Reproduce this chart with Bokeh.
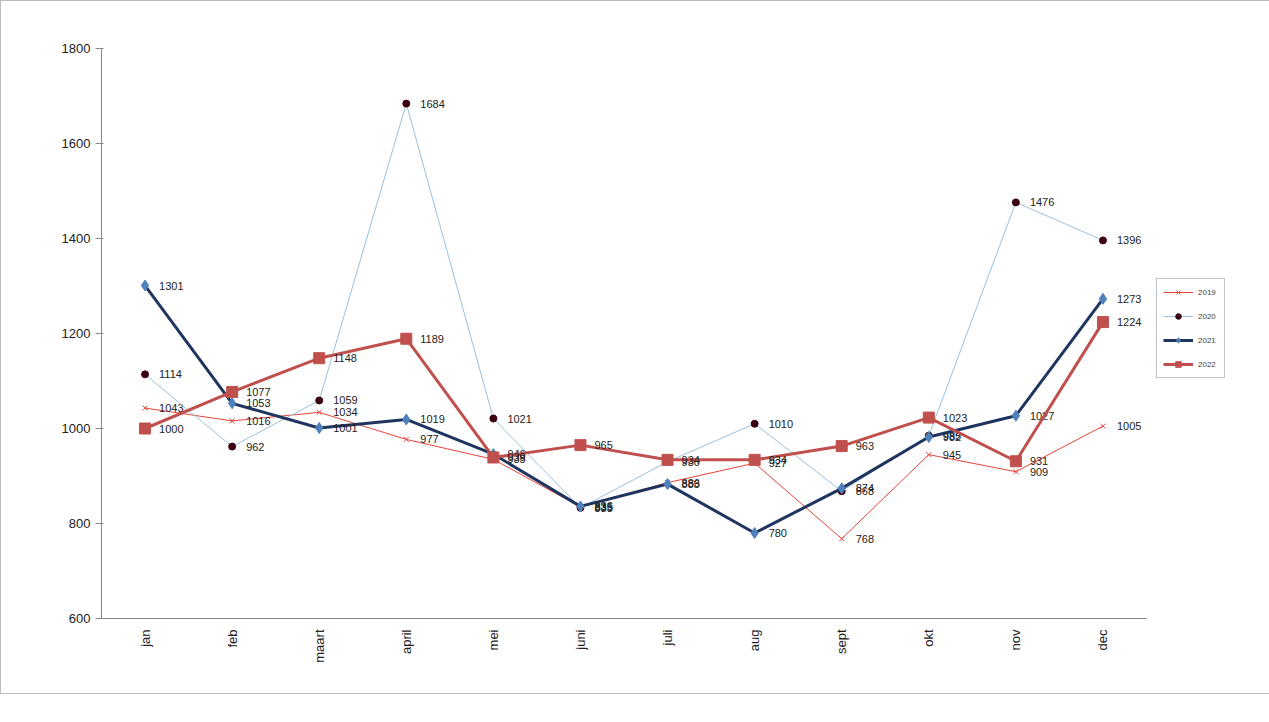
from math import pi
from bokeh.plotting import figure
from bokeh.models import Legend, LegendItem, ColumnDataSource, SingleIntervalTicker
from bokeh.embed import file_html
from bokeh.resources import INLINE

months = ["jan", "feb", "maart", "april", "mei", "juni", "juli", "aug", "sept", "okt", "nov", "dec"]
y2019 = [1043, 1016, 1034, 977, 935, 835, 886, 927, 768, 945, 909, 1005]
y2020 = [1114, 962, 1059, 1684, 1021, 833, 930, 1010, 868, 985, 1476, 1396]
y2021 = [1301, 1053, 1001, 1019, 946, 836, 883, 780, 874, 982, 1027, 1273]
y2022 = [1000, 1077, 1148, 1189, 939, 965, 934, 934, 963, 1023, 931, 1224]

p = figure(x_range=months, y_range=(600, 1800), frame_width=1045, frame_height=570,
           min_border_left=100, min_border_top=47, min_border_right=90, min_border_bottom=75,
           output_backend="svg", toolbar_location=None)
p.styles = {"border": "1px solid #bbbbbb"}
p.outline_line_color = None
p.xgrid.grid_line_color = None
p.ygrid.grid_line_color = None
p.border_fill_color = "white"
p.yaxis.ticker = SingleIntervalTicker(interval=200)
p.xaxis.major_label_orientation = pi / 2
for ax in (p.xaxis, p.yaxis):
    ax.major_label_text_font = "Liberation Sans"
    ax.major_label_text_font_size = "13px"
    ax.major_label_text_color = "#222222"
    ax.axis_line_color = "#888888"
    ax.major_tick_line_color = "#888888"
    ax.minor_tick_line_color = None
p.xaxis.major_tick_line_color = None

items = []
specs = [
    ("2019", y2019, "#e8443a", 1, "x", "#e8443a", 7),
    ("2020", y2020, "#9cc0dc", 1, "circle", "#3a0010", 7),
    ("2021", y2021, "#1f3560", 3, "diamond", "#4f81bd", 11),
    ("2022", y2022, "#c0504d", 3, "square", "#c0504d", 11),
]
for name, ys, lc, lw, mk, mc, ms in specs:
    src = ColumnDataSource(dict(x=months, y=ys, t=[str(v) for v in ys]))
    r1 = p.line("x", "y", source=src, line_color=lc, line_width=lw)
    r2 = p.scatter("x", "y", source=src, marker=mk, size=ms, fill_color=mc, line_color=mc)
    p.text("x", "y", text="t", source=src, x_offset=14, text_baseline="middle",
           text_font_size="11px", text_color="#222222")
    items.append(LegendItem(label=name, renderers=[r1, r2]))

legend = Legend(items=items, location=(10, 240), label_text_font_size="8px",
                glyph_width=30, glyph_height=14, spacing=10, border_line_color="#888888",
                padding=6)
p.add_layout(legend, "right")

open("out.html", "w").write(file_html(p, INLINE))
